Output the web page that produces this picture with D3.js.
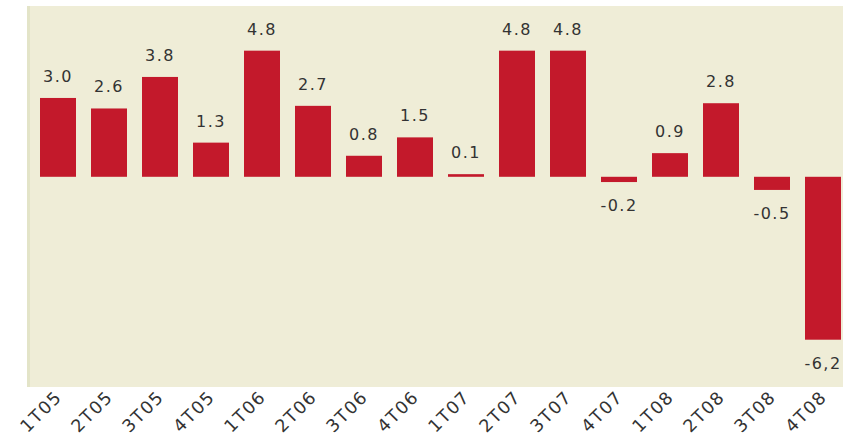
<!DOCTYPE html>
<html>
<head>
<meta charset="utf-8">
<script src="https://cdn.jsdelivr.net/npm/d3@7"></script>
<style>
  html, body { margin: 0; padding: 0; background: #ffffff; }
  svg { display: block; }
</style>
</head>
<body>
<svg id="chart" width="843" height="445"></svg>
<script>
const categories = ["1T05","2T05","3T05","4T05","1T06","2T06","3T06","4T06","1T07","2T07","3T07","4T07","1T08","2T08","3T08","4T08"];
const values = [3.0, 2.6, 3.8, 1.3, 4.8, 2.7, 0.8, 1.5, 0.1, 4.8, 4.8, -0.2, 0.9, 2.8, -0.5, -6.2];
const valueLabels = ["3.0","2.6","3.8","1.3","4.8","2.7","0.8","1.5","0.1","4.8","4.8","-0.2","0.9","2.8","-0.5","-6,2"];

const W = 843, H = 445;
const plot = { left: 27, right: 843, top: 6, bottom: 387 };
const svg = d3.select("#chart");

const x = d3.scaleBand()
  .domain(categories)
  .range([plot.left, 854])
  .paddingInner(15 / 51)
  .paddingOuter(13 / 51)
  .align(0.5);

const y = d3.scaleLinear()
  .domain([-8, 6.5])
  .range([plot.bottom, plot.top]);

// background
svg.append("rect")
  .attr("x", plot.left).attr("y", plot.top)
  .attr("width", plot.right - plot.left).attr("height", plot.bottom - plot.top)
  .attr("fill", "#efedd7");
svg.append("rect")
  .attr("x", plot.left).attr("y", plot.top)
  .attr("width", 3).attr("height", plot.bottom - plot.top)
  .attr("fill", "#e3e4c8");

// bars
svg.append("g").selectAll("rect")
  .data(values)
  .join("rect")
  .attr("x", (d, i) => x(categories[i]))
  .attr("width", x.bandwidth())
  .attr("y", d => y(Math.max(0, d)))
  .attr("height", d => Math.max(2, Math.abs(y(d) - y(0))))
  .attr("fill", "#c3192b");

// value labels
svg.append("g").selectAll("text")
  .data(values)
  .join("text")
  .attr("x", (d, i) => x(categories[i]) + x.bandwidth() / 2)
  .attr("y", d => d >= 0 ? y(d) - 16 : y(d) + 29)
  .attr("text-anchor", "middle")
  .attr("font-family", "DejaVu Sans, sans-serif")
  .attr("font-size", 16)
  .attr("letter-spacing", 1.5)
  .attr("fill", "#333333")
  .text((d, i) => valueLabels[i]);

// x axis labels
const xAxis = d3.axisBottom(x).tickSize(0).tickPadding(0);
const gx = svg.append("g")
  .attr("transform", `translate(0, 398)`)
  .call(xAxis);
gx.select(".domain").remove();
gx.selectAll("text")
  .attr("font-family", "DejaVu Sans, sans-serif")
  .attr("font-size", 17.5)
  .attr("letter-spacing", 1.5)
  .attr("fill", "#333333")
  .attr("text-anchor", "end")
  .attr("dy", "0")
  .attr("y", 0)
  .attr("x", 0)
  .attr("transform", "translate(5,0) rotate(-45)");
</script>
</body>
</html>
